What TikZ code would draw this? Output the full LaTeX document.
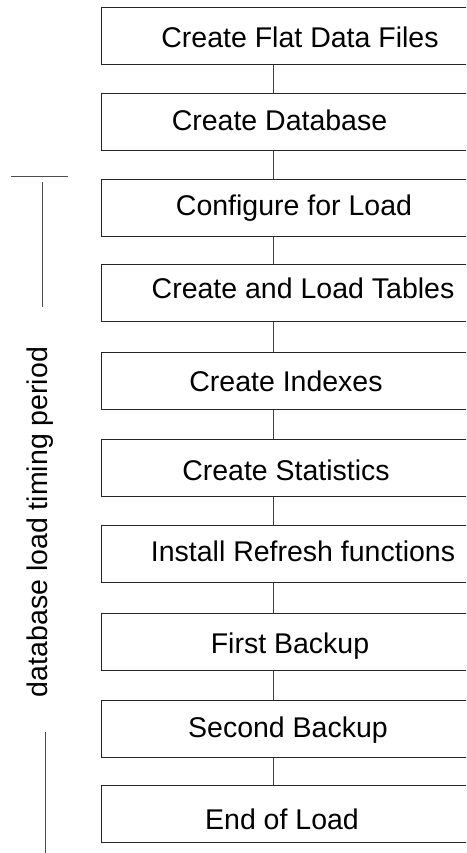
\documentclass[tikz,border=0pt]{standalone}
\usepackage{fontspec}
\setmainfont{Liberation Sans}
\begin{document}
\begin{tikzpicture}[x=1pt,y=-1pt,
  box/.style={draw=black!85, line width=1.1pt, minimum width=380pt, minimum height=57pt, inner sep=0pt, anchor=north west},
  lab/.style={font=\fontsize{28.5}{34}\selectfont, inner sep=0pt, anchor=base},
  conn/.style={draw=black!75, line width=1pt},
  brk/.style={draw=black!70, line width=1pt}]
\useasboundingbox (0,0) rectangle (466,853);
\clip (0,0) rectangle (466,853);
\coordinate (cx) at (273.5,0);
\node[box] (b1) at (101,7) {};
\node[box] (b2) at (101,93) {};
\node[box] (b3) at (101,179) {};
\node[box] (b4) at (101,264) {};
\node[box] (b5) at (101,352) {};
\node[box] (b6) at (101,439) {};
\node[box] (b7) at (101,525) {};
\node[box] (b8) at (101,613) {};
\node[box] (b9) at (101,700) {};
\node[box] (b10) at (101,785) {};
\node[lab] (t1) at (300,48) {Create Flat Data Files};
\node[lab] (t2) at (279.5,131) {Create Database};
\node[lab] (t3) at (294,215) {Configure for Load};
\node[lab] (t4) at (303,298) {Create and Load Tables};
\node[lab] (t5) at (286,391) {Create Indexes};
\node[lab] (t6) at (286,480) {Create Statistics};
\node[lab] (t7) at (303,561) {Install Refresh functions};
\node[lab] (t8) at (290,653) {First Backup};
\node[lab] (t9) at (288,737) {Second Backup};
\node[lab] (t10) at (282,829) {End of Load};
\foreach \a/\b in {b1/b2,b2/b3,b3/b4,b4/b5,b5/b6,b6/b7,b7/b8,b8/b9,b9/b10}
  \draw[conn] (\a.south -| cx) -- (\b.north -| cx);
\node[font=\fontsize{28.5}{34}\selectfont, inner sep=0pt, rotate=90] (side) at (40.5,522) {database load timing period};
\draw[brk] (11,177) -- (68,177);
\draw[brk] (42,182) -- (42,307);
\draw[brk] (45,732) -- (45,853);
\end{tikzpicture}
\end{document}
